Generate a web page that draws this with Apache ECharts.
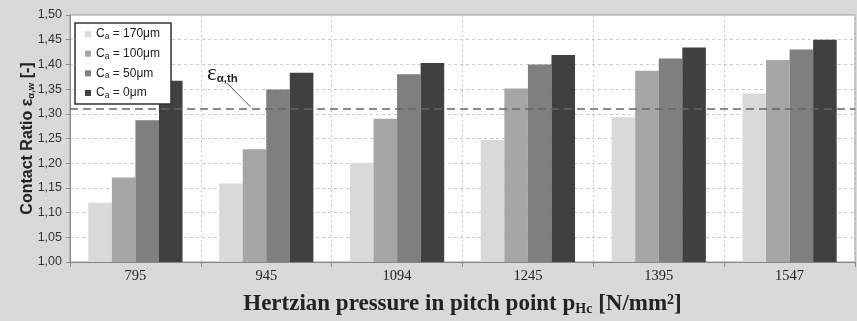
<!DOCTYPE html>
<html><head><meta charset="utf-8">
<script src="https://cdn.jsdelivr.net/npm/echarts@6/dist/echarts.min.js"></script>
<style>html,body{margin:0;padding:0;background:#d9d9d9}#c{width:857px;height:321px}</style>
</head><body><div id="c"></div>
<script>
var categories = ['795', '945', '1094', '1245', '1395', '1547'];
var seriesNames = ['170μm', '100μm', '50μm', '0μm'];
var ca170 = [1.120, 1.159, 1.201, 1.247, 1.293, 1.341];
var ca100 = [1.171, 1.228, 1.290, 1.351, 1.387, 1.409];
var ca50  = [1.287, 1.349, 1.380, 1.400, 1.412, 1.430];
var ca0   = [1.367, 1.383, 1.403, 1.419, 1.434, 1.450];
var threshold = 1.314;
var colors = ['#d9d9d9', '#a6a6a6', '#7f7f7f', '#404040'];

var chart = echarts.init(document.getElementById('c'));
var data = [ca170, ca100, ca50, ca0];
var series = data.map(function (d, i) {
  var s = {
    name: 'C{sub|a} = ' + seriesNames[i],
    type: 'bar', data: d, barGap: '0%', barCategoryGap: '28%',
    itemStyle: { color: colors[i] },
    emphasis: { disabled: true }
  };
  if (i === 0) {
    s.markLine = {
      silent: true, symbol: 'none',
      lineStyle: { color: '#666', type: [8, 5], width: 1.5 },
      label: { show: false },
      data: [{ yAxis: threshold }]
    };
  }
  return s;
});
chart.setOption({
  backgroundColor: '#d9d9d9',
  animation: false,
  grid: { left: 70, right: 2, top: 15, bottom: 59, outerBoundsMode: 'none', containLabel: false,
    show: true, backgroundColor: '#fff', borderColor: '#9a9a9a', borderWidth: 1 },
  legend: {
    orient: 'vertical', left: 75, top: 23, backgroundColor: '#fff',
    borderColor: '#333', borderWidth: 1.5, padding: [4, 11, 4, 10],
    itemWidth: 6, itemHeight: 6, itemGap: 5.3, icon: 'rect',
    textStyle: { fontFamily: 'Liberation Sans, Arial', fontSize: 12, color: '#222', lineHeight: 14.3,
      rich: { sub: { fontSize: 8.5, verticalAlign: 'bottom', padding: [5, 0, 0, 0], fontFamily: 'Liberation Sans, Arial', color: '#222' } } },
    data: series.map(function (s) { return s.name; })
  },
  xAxis: {
    type: 'category', data: categories,
    axisLine: { lineStyle: { color: '#888' } },
    axisTick: { show: true, length: 5, lineStyle: { color: '#888' } },
    axisLabel: { fontFamily: 'Liberation Serif, serif', fontSize: 14.5, color: '#222', margin: 7 },
    splitLine: { show: true, lineStyle: { color: '#c8c8c8', type: [2, 3] } },
    name: 'Hertzian pressure in pitch point p{sub|Hc} [N/mm{sup|2}]',
    nameLocation: 'middle', nameGap: 31,
    nameTextStyle: { fontFamily: 'Liberation Serif, serif', fontWeight: 'bold', fontSize: 23, color: '#222',
      rich: { sub: { fontFamily: 'Liberation Serif, serif', fontWeight: 'bold', fontSize: 14, verticalAlign: 'bottom', padding: [9, 0, 0, 0], color: '#222' },
              sup: { fontFamily: 'Liberation Serif, serif', fontWeight: 'bold', fontSize: 14, verticalAlign: 'top', padding: [0, 0, 9, 0], color: '#222' } } }
  },
  yAxis: {
    type: 'value', min: 1, max: 1.5, interval: 0.05,
    axisLine: { show: true, lineStyle: { color: '#888' } },
    axisTick: { show: true, length: 4, lineStyle: { color: '#888' } },
    axisLabel: { fontFamily: 'Liberation Sans, Arial', fontSize: 12.5, color: '#333', margin: 8,
      formatter: function (v) { return v.toFixed(2).replace('.', ','); } },
    splitLine: { show: true, lineStyle: { color: '#c8c8c8', type: [3, 3] } },
    name: 'Contact Ratio ε{sub|α,w} [-]', nameLocation: 'middle', nameGap: 34, nameRotate: 90,
    nameMoveOverlap: false,
    nameTextStyle: { fontFamily: 'Liberation Sans, Arial', fontWeight: 'bold', fontSize: 16, color: '#222',
      rich: { sub: { fontFamily: 'Liberation Sans, Arial', fontWeight: 'bold', fontSize: 9.5, verticalAlign: 'bottom', padding: [6, 0, 0, 0], color: '#222' } } }
  },
  series: series
});
// annotation for threshold line, anchored on data coordinates
var c0 = chart.convertToPixel({ xAxisIndex: 0 }, categories[0]);
var c1 = chart.convertToPixel({ xAxisIndex: 0 }, categories[1]);
var cw = c1 - c0;
var yT = chart.convertToPixel({ yAxisIndex: 0 }, threshold);
var yS = chart.convertToPixel({ yAxisIndex: 0 }, 1.362);
var xE = c0 + cw * 0.88;
var xS = c0 + cw * 0.70;
chart.setOption({
  graphic: [
    { type: 'line', shape: { x1: xS, y1: yS, x2: xE, y2: yT }, style: { stroke: '#555', lineWidth: 1 } },
    { type: 'text', x: xS - 20, y: yS - 21, style: {
      text: '{e|ε}{s|α,th}', rich: {
        e: { fontFamily: 'Liberation Serif, serif', fontSize: 23, fill: '#222' },
        s: { fontFamily: 'Liberation Sans, Arial', fontWeight: 'bold', fontSize: 11.5, fill: '#222', verticalAlign: 'bottom', padding: [6, 0, 0, 0] }
      } } }
  ]
});
</script></body></html>
